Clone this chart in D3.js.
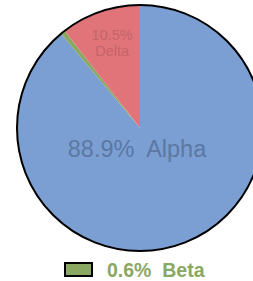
<!DOCTYPE html>
<html>
<head>
<meta charset="utf-8">
<script src="https://cdn.jsdelivr.net/npm/d3@7"></script>
<style>
  html, body { margin: 0; padding: 0; background: #fff; overflow: hidden; }
</style>
</head>
<body>
<div id="vis"></div>
<script>
// chart data
var categories = ["Alpha", "Beta", "Delta"];
var values = [88.9, 0.6, 10.5];
var colors = ["#7b9fd3", "#8aa862", "#e07479"];

var font = "Arial, 'Liberation Sans', sans-serif";
var width = 253, height = 281;
var cx = 140, cy = 128, r = 123;

var svg = d3.select("#vis")
    .append("svg")
    .attr("width", width)
    .attr("height", height);

var data = categories.map(function (c, i) {
    return { name: c, value: values[i], color: colors[i] };
});

var pie = d3.pie()
    .sort(null)
    .value(function (d) { return d.value; });

var arc = d3.arc().innerRadius(0).outerRadius(r);

var g = svg.append("g")
    .attr("transform", "translate(" + cx + "," + cy + ")");

var arcs = pie(data);

g.selectAll("path")
    .data(arcs)
    .enter()
    .append("path")
    .attr("d", arc)
    .attr("fill", function (d) { return d.data.color; });

g.append("circle")
    .attr("r", r)
    .attr("fill", "none")
    .attr("stroke", "#000")
    .attr("stroke-width", 2);

// big label inside Alpha
g.append("text")
    .attr("x", -3)
    .attr("y", 29)
    .attr("text-anchor", "middle")
    .style("font-family", font)
    .style("font-size", "23.5px")
    .attr("fill", "#5b77a3")
    .attr("xml:space", "preserve")
    .text(d3.format(".1f")(values[0]) + "%  " + categories[0]);

// Delta label
var delta = arcs[2];
var mid = (delta.startAngle + delta.endAngle) / 2;
var lr = 86;
var lx = Math.sin(mid) * lr, ly = -Math.cos(mid) * lr;
var dl = g.append("text")
    .attr("text-anchor", "middle")
    .style("font-family", font)
    .style("font-size", "14.5px")
    .attr("fill", "#c4646a");
dl.append("tspan").attr("x", lx).attr("y", ly - 7).text(d3.format(".1f")(values[2]) + "%");
dl.append("tspan").attr("x", lx).attr("y", ly + 9).text(categories[2]);

// legend for Beta
var lg = svg.append("g").attr("transform", "translate(65,263)");
lg.append("rect")
    .attr("width", 27)
    .attr("height", 13)
    .attr("fill", colors[1])
    .attr("stroke", "#000")
    .attr("stroke-width", 2);
lg.append("text")
    .attr("x", 42)
    .attr("y", 14)
    .style("font-family", font)
    .style("font-size", "19.5px")
    .style("font-weight", "bold")
    .attr("fill", colors[1])
    .attr("xml:space", "preserve")
    .text(d3.format(".1f")(values[1]) + "%  " + categories[1]);
</script>
</body>
</html>
